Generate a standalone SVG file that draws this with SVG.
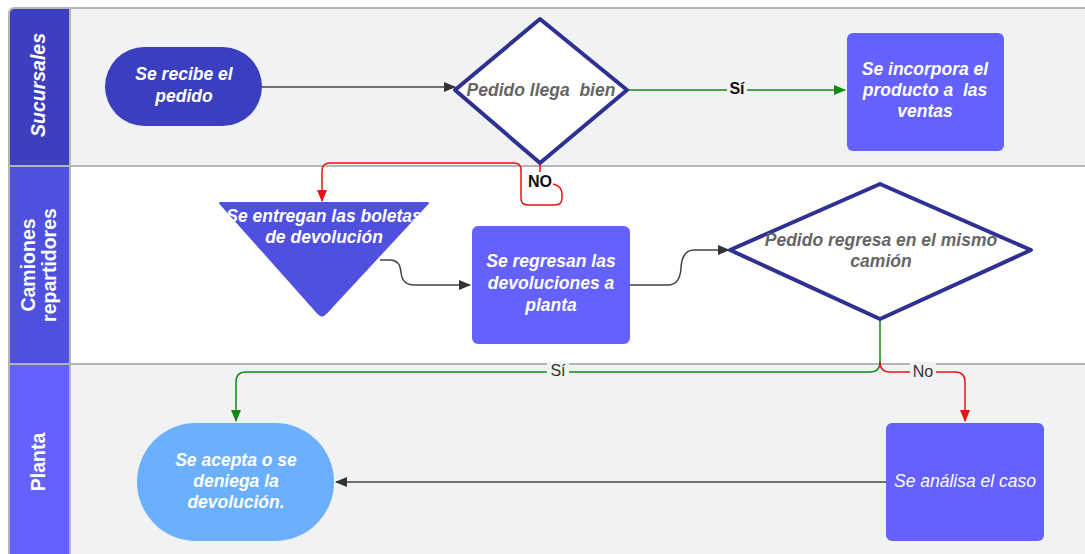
<svg xmlns="http://www.w3.org/2000/svg" width="1085" height="554" viewBox="0 0 1085 554">
<style>
.t{font-family:"Liberation Sans",Arial,sans-serif;font-size:17.5px;font-weight:bold;font-style:italic;fill:#fff;text-anchor:middle;white-space:pre}
.g{fill:#666}
.n{font-weight:normal}
.h{font-family:"Liberation Sans",Arial,sans-serif;font-size:19.5px;font-weight:bold;fill:#fff;text-anchor:middle}
.c{fill:none;stroke-width:1.5}
.lbl{font-family:"Liberation Sans",Arial,sans-serif;font-size:16px;text-anchor:middle}
</style>
<defs>
<marker id="ak" markerWidth="12" markerHeight="10" refX="11" refY="5" orient="auto" markerUnits="userSpaceOnUse"><path d="M0,0 L12,5 L0,10 Z" fill="#333"/></marker>
<marker id="ag" markerWidth="12" markerHeight="10" refX="11" refY="5" orient="auto" markerUnits="userSpaceOnUse"><path d="M0,0 L12,5 L0,10 Z" fill="#118811"/></marker>
<marker id="ar" markerWidth="12" markerHeight="10" refX="11" refY="5" orient="auto" markerUnits="userSpaceOnUse"><path d="M0,0 L12,5 L0,10 Z" fill="#ee1111"/></marker>
</defs>
<rect width="1085" height="554" fill="#fff"/>
<g id="lanes">
<rect x="70" y="8" width="1020" height="158" fill="#f1f2f4"/>
<rect x="70" y="166" width="1020" height="198" fill="#fff"/>
<rect x="70" y="364" width="1020" height="195" fill="#f1f2f4"/>
<path d="M9,559 V14 Q9,8 15,8 H70 V166 H9 Z" fill="#3d3fbf"/>
<rect x="9" y="166" width="61" height="198" fill="#5050e0"/>
<rect x="9" y="364" width="61" height="195" fill="#6461ff"/>
<path d="M9,559 V14 Q9,8 15,8 H1090" fill="none" stroke="#b5b5b5" stroke-width="2"/>
<path d="M9,166 H1090 M9,364 H1090 M70,8 V559" fill="none" stroke="#b5b5b5" stroke-width="2"/>
<text class="h" font-style="italic" font-size="20" transform="translate(45,85) rotate(-90)">Sucursales</text>
<text class="h" transform="translate(35,265) rotate(-90)">Camiones</text>
<text class="h" transform="translate(56,265) rotate(-90)">repartidores</text>
<text class="h" transform="translate(45,462) rotate(-90)">Planta</text>
</g>
<g id="connectors">
<path class="c" d="M262,87 H455" stroke="#444" marker-end="url(#ak)"/>
<path class="c" d="M627,90 H845" stroke="#118811" stroke-width="2.5" marker-end="url(#ag)"/>
<rect x="727" y="79" width="20" height="18" fill="#f1f2f4"/>
<text class="lbl" x="737" y="94" font-weight="bold" fill="#111">Sí</text>
<path class="c" d="M540,163 V172 M553,184 Q562,186 562,194 V198 Q562,205 555,205 H528 Q521,205 521,198 V170 Q521,163 514,163 H330 Q322,163 322,171 V201" stroke="#ee1111" stroke-width="2" marker-end="url(#ar)"/>
<text class="lbl" x="540" y="187" font-weight="bold" font-size="15" fill="#111">NO</text>
<path class="c" d="M380,260 H390 Q400,260 401,272 Q402,285 414,285 H470" stroke="#444" marker-end="url(#ak)"/>
<path class="c" d="M630,285 H668 Q680,285 681,268 Q682,250 694,250 H729" stroke="#444" marker-end="url(#ak)"/>
<path class="c" d="M880,320 V362 Q880,372 870,372 H246 Q236,372 236,382 V421" stroke="#118811" stroke-width="2" marker-end="url(#ag)"/>
<rect x="547" y="362" width="22" height="16" fill="#f1f2f4"/>
<text class="lbl" x="558" y="376" fill="#333">Sí</text>
<path class="c" d="M880,362 Q880,372 890,372 H955 Q965,372 965,382 V421" stroke="#ee1111" stroke-width="2" marker-end="url(#ar)"/>
<rect x="910" y="362" width="26" height="16" fill="#f1f2f4"/>
<text class="lbl" x="923" y="377" fill="#333">No</text>
<path class="c" d="M886,482 H336" stroke="#444" marker-end="url(#ak)"/>
</g>
<g id="n1">
<rect x="105" y="47" width="157" height="79" rx="39.5" fill="#3b3fbf"/>
<text class="t" x="184" y="80">Se recibe el</text>
<text class="t" x="184" y="102">pedido</text>
</g>
<g id="d1">
<path d="M540,19 L627,90 L540,163 L455,90 Z" fill="#fff" stroke="#2e3191" stroke-width="4" stroke-linejoin="round"/>
<text class="t g" x="541" y="96">Pedido llega  bien</text>
</g>
<g id="n3">
<rect x="847" y="33" width="157" height="118" rx="6" fill="#6461ff"/>
<text class="t" x="925" y="75">Se incorpora el</text>
<text class="t" x="925" y="96">producto a  las</text>
<text class="t" x="925" y="117">ventas</text>
</g>
<g id="tri">
<path d="M220,203 H428 L326,313 Q322,318 318,313 Z" fill="#5050e0" stroke="#5050e0" stroke-linejoin="round" stroke-width="2"/>
<text class="t" x="324" y="222">Se entregan las boletas</text>
<text class="t" x="324" y="243">de devolución</text>
</g>
<g id="n2">
<rect x="472" y="226" width="158" height="118" rx="6" fill="#6461ff"/>
<text class="t" x="551" y="267">Se regresan las</text>
<text class="t" x="551" y="289">devoluciones a</text>
<text class="t" x="551" y="311">planta</text>
</g>
<g id="d2">
<path d="M880,184 L1031,250 L880,319 L730,250 Z" fill="#fff" stroke="#2e3191" stroke-width="4" stroke-linejoin="round"/>
<text class="t g" x="881" y="246">Pedido regresa en el mismo</text>
<text class="t g" x="881" y="267">camión</text>
</g>
<g id="n4">
<rect x="137" y="423" width="197" height="118" rx="59" fill="#6ab0ff"/>
<text class="t" x="236" y="466">Se acepta o se</text>
<text class="t" x="236" y="487">deniega la</text>
<text class="t" x="236" y="508">devolución.</text>
</g>
<g id="n5">
<rect x="886" y="423" width="158" height="118" rx="6" fill="#6461ff"/>
<text class="t n" x="965" y="487">Se análisa el caso</text>
</g>
</svg>
